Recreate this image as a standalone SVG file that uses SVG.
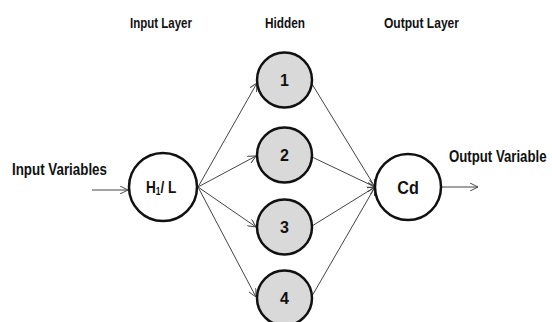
<svg xmlns="http://www.w3.org/2000/svg" width="552" height="322" viewBox="0 0 552 322">
<style>
text{font-family:"Liberation Sans",Arial,sans-serif;font-weight:bold;fill:#111}
.hdr{font-size:14px}
.lbl{font-size:16.5px}
.node{stroke:#111;stroke-width:2.5}
.in{fill:#fff}
.hid{fill:#d9d9d9}
.num{font-size:16px;text-anchor:middle}
.conn line{stroke:#444;stroke-width:1}
</style>
<defs>
<marker id="ah" viewBox="0 0 10 10" refX="10" refY="5" markerWidth="8" markerHeight="8" markerUnits="userSpaceOnUse" orient="auto">
<path d="M0,0 L10,5 L0,10" fill="none" stroke="#444" stroke-width="1.2"/>
</marker>
</defs>
<rect width="552" height="322" fill="#fff"/>
<text class="hdr" x="130" y="28" textLength="62" lengthAdjust="spacingAndGlyphs">Input Layer</text>
<text class="hdr" x="265" y="28" textLength="40" lengthAdjust="spacingAndGlyphs">Hidden</text>
<text class="hdr" x="384" y="28" textLength="75" lengthAdjust="spacingAndGlyphs">Output Layer</text>
<text class="lbl" transform="translate(12,175) scale(0.81,1)">Input Variables</text>
<text class="lbl" transform="translate(449,162) scale(0.8,1)">Output Variable</text>
<g class="conn">
<line x1="92" y1="190" x2="128" y2="190" marker-end="url(#ah)"/>
<line x1="198" y1="187" x2="257" y2="83" marker-end="url(#ah)"/>
<line x1="198" y1="187" x2="256" y2="156" marker-end="url(#ah)"/>
<line x1="198" y1="187" x2="256" y2="227" marker-end="url(#ah)"/>
<line x1="198" y1="187" x2="256" y2="297" marker-end="url(#ah)"/>
<line x1="312" y1="84" x2="375" y2="187" marker-end="url(#ah)"/>
<line x1="312" y1="157" x2="375" y2="187" marker-end="url(#ah)"/>
<line x1="312" y1="226" x2="375" y2="187" marker-end="url(#ah)"/>
<line x1="312" y1="296" x2="375" y2="187" marker-end="url(#ah)"/>
<line x1="441" y1="187" x2="478" y2="187" marker-end="url(#ah)"/>
</g>
<g id="node-input">
<circle class="node in" cx="163" cy="187" r="34"/>
<text transform="translate(146,193) scale(0.85,1)" font-size="16">H<tspan font-size="10" dy="2">1</tspan><tspan dy="-2">/ L</tspan></text>
</g>
<g id="node-h1">
<circle class="node hid" cx="284.5" cy="80" r="27.5"/>
<text class="num" x="284.5" y="86">1</text>
</g>
<g id="node-h2">
<circle class="node hid" cx="284.5" cy="155" r="27.5"/>
<text class="num" x="284.5" y="161">2</text>
</g>
<g id="node-h3">
<circle class="node hid" cx="284.5" cy="227" r="27.5"/>
<text class="num" x="284.5" y="233">3</text>
</g>
<g id="node-h4">
<circle class="node hid" cx="284.5" cy="298" r="27.5"/>
<text class="num" x="284.5" y="304">4</text>
</g>
<g id="node-output">
<circle class="node in" cx="408" cy="187" r="33"/>
<text transform="translate(408,194) scale(0.85,1)" font-size="19" text-anchor="middle">Cd</text>
</g>
</svg>
